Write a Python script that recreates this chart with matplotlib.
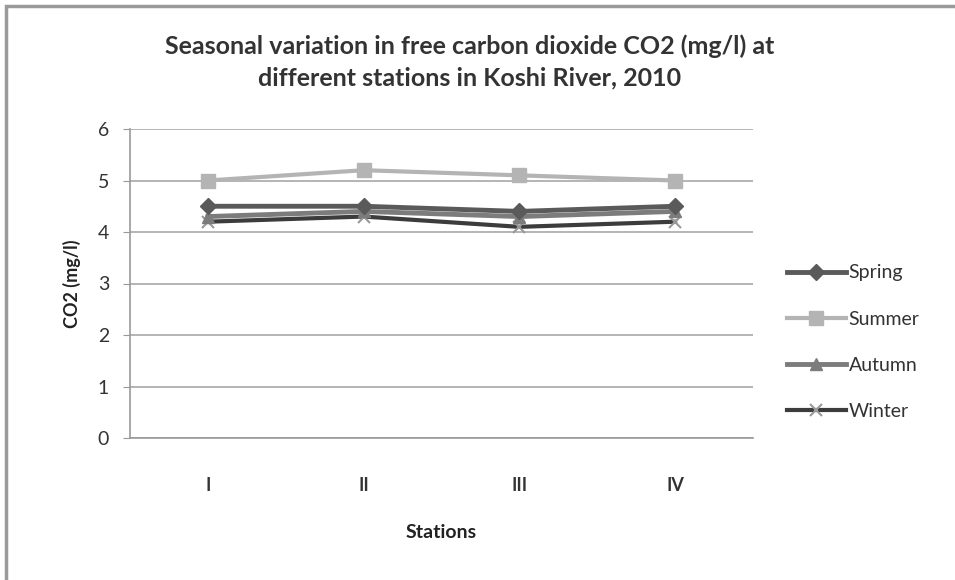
import matplotlib.pyplot as plt
from matplotlib.patches import Rectangle

stations = ["I", "II", "III", "IV"]
spring = [4.5, 4.5, 4.4, 4.5]
summer = [5.0, 5.2, 5.1, 5.0]
autumn = [4.3, 4.4, 4.3, 4.4]
winter = [4.2, 4.3, 4.1, 4.2]

plt.rcParams['font.family'] = ['Lato', 'DejaVu Sans']

fig = plt.figure(figsize=(9.55, 5.8), dpi=100)
ax = fig.add_axes([130/955, 1 - 438/580, 623/955, 309/580])

# outer chart frame
fig.patches.append(Rectangle((6/955, -0.01), 1.0, 1 - 6/580 + 0.01, transform=fig.transFigure,
                             fill=False, edgecolor='#9a9a9a', linewidth=2.5))

x = range(len(stations))
ax.plot(x, summer, color='#b4b4b4', linewidth=3, marker='s', markersize=10, label='Summer', zorder=3)
ax.plot(x, spring, color='#5a5a5a', linewidth=3.5, marker='D', markersize=8, label='Spring', zorder=4)
ax.plot(x, autumn, color='#7c7c7c', linewidth=3.5, marker='^', markersize=9, label='Autumn', zorder=3)
ax.plot(x, winter, color='#3c3c3c', linewidth=3, marker='x', markersize=9, markeredgewidth=1.5,
        markeredgecolor='#999999', label='Winter', zorder=2)

ax.set_xlim(-0.5, 3.5)
ax.set_ylim(0, 6)
ax.set_yticks(range(0, 7))
ax.set_xticks(list(x))
ax.set_xticklabels(stations, fontweight='bold', fontsize=13, color='#333333')
ax.tick_params(axis='x', length=0, pad=28)
ax.tick_params(axis='y', labelsize=14, colors='#333333', length=5, color='#999999', pad=10)
ax.grid(axis='y', color='#a8a8a8', linewidth=1.2)
ax.set_axisbelow(True)
for s in ['top', 'right']:
    ax.spines[s].set_visible(False)
for s in ['left', 'bottom']:
    ax.spines[s].set_color('#999999')
    ax.spines[s].set_linewidth(1.2)

ax.set_ylabel("CO2 (mg/l)", fontweight='bold', fontsize=13, color='#222222', labelpad=12)
ax.set_xlabel("Stations", fontweight='bold', fontsize=14, color='#222222', labelpad=22)
fig.text(0.492, 1 - 62/580,
         "Seasonal variation in free carbon dioxide CO2 (mg/l) at\ndifferent stations in Koshi River, 2010",
         ha='center', va='center', fontsize=18, fontweight='bold', color='#333333', linespacing=1.4)

handles, labels = ax.get_legend_handles_labels()
order = [1, 0, 2, 3]
ax.legend([handles[i] for i in order], [labels[i] for i in order],
          loc='center left', bbox_to_anchor=(1.055, 0.31), frameon=False,
          fontsize=14, labelspacing=1.5, handlelength=3.0, handletextpad=0.15,
          borderpad=0, borderaxespad=0, labelcolor='#333333')

fig.savefig("out.png", dpi=100, facecolor='white')
